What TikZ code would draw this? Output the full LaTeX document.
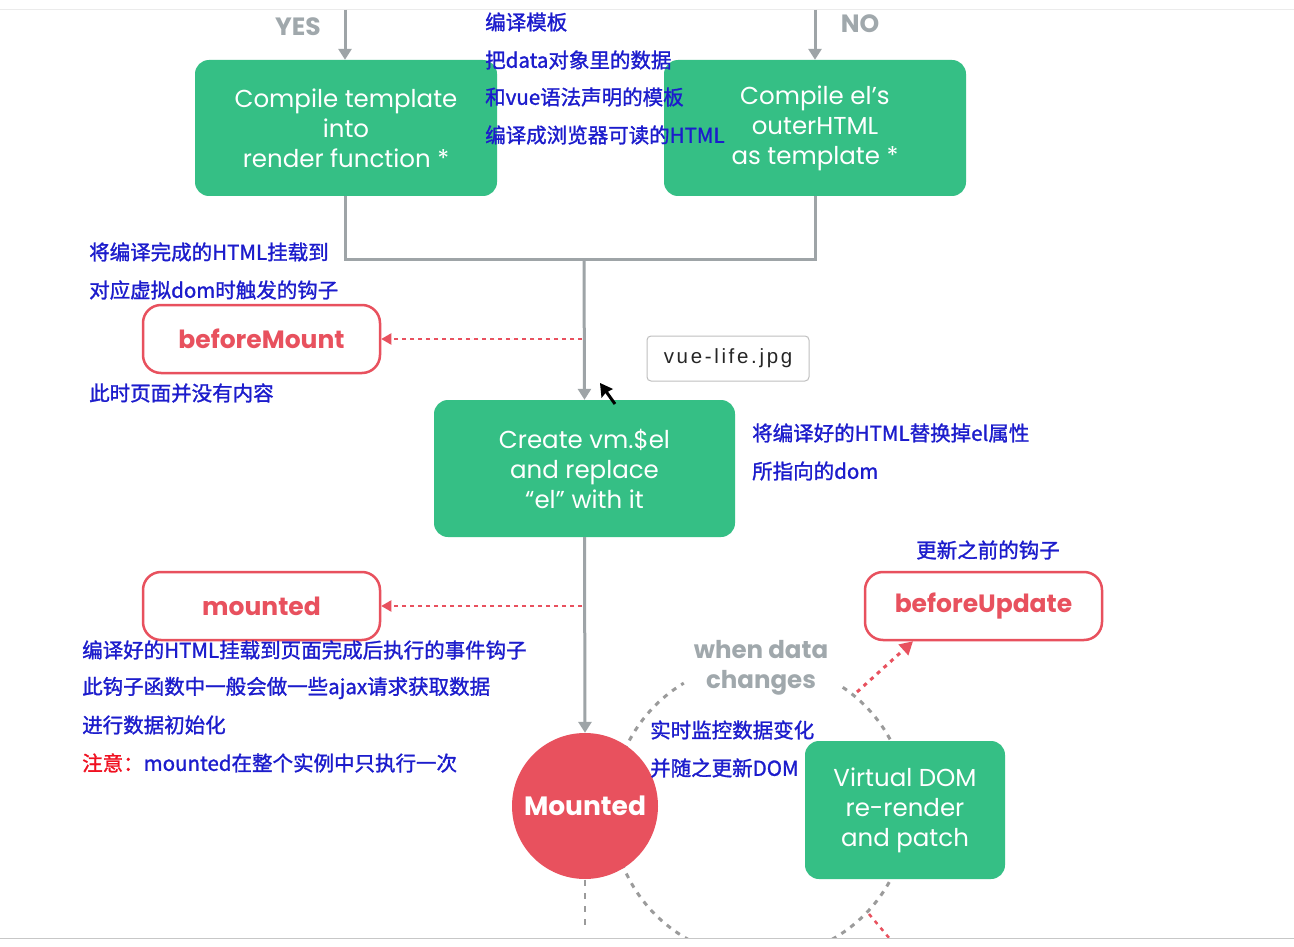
\documentclass[tikz,border=0pt]{standalone}
\usepackage{fontspec}
\setmainfont{Poppins}
\newfontfamily\cjk[FakeBold=1.3]{Noto Sans CJK SC}
\newfontfamily\tipfont[LetterSpace=13]{Liberation Sans}
\usetikzlibrary{arrows.meta,calc}
\definecolor{vgreen}{HTML}{35BF85}
\definecolor{vred}{HTML}{E8515E}
\definecolor{vgray}{HTML}{9EA4A7}
\definecolor{vblue}{HTML}{1C1CCC}
\definecolor{lblgray}{HTML}{A0A8AC}
\definecolor{dashgray}{HTML}{9B9B9B}
\definecolor{notered}{HTML}{F01020}
\tikzset{
  greenbox/.style={fill=vgreen, rounded corners=14pt, text=white, align=center,
    font=\fontsize{24.5}{30}\selectfont, inner sep=0pt},
  hookbox/.style={draw=vred, line width=2.5pt, fill=white, rounded corners=18pt,
    minimum width=237pt, minimum height=68pt, text=vred, inner sep=0pt,
    font=\bfseries\fontsize{25}{28}\selectfont},
  cntext/.style={anchor=west, inner sep=0pt, text=vblue, font=\cjk\fontsize{20.5}{24}\selectfont},
  flow/.style={draw=vgray, line width=3pt},
  flowarrow/.style={flow, -{Triangle[length=11pt,width=13pt]}},
  hookarrow/.style={draw=vred, line width=2pt, dash pattern=on 4pt off 4pt,
    -{Triangle[length=10pt,width=11pt]}},
  ylabel/.style={text=lblgray, font=\bfseries\fontsize{25}{28}\selectfont, inner sep=0pt},
}
\begin{document}
\begin{tikzpicture}[x=1pt,y=-1pt]
\useasboundingbox (0,0) rectangle (1294,947);
\fill[white] (0,0) rectangle (1294,947);
\draw[color=black!8, line width=1pt] (0,10) -- (1294,10);
\draw[color=black!22, line width=1pt] (0,938) -- (1294,938);

% dashed update cycle
\begin{scope}
\clip (0,11) rectangle (1294,937);
\draw[dashgray, line width=3pt, dash pattern=on 5pt off 6pt] (760,810) ++(-56:148) arc[start angle=-56, end angle=239, radius=148];
\coordinate (cycR) at (857,692);
\coordinate (cycB) at (869,914);
\coordinate (cycBend) at (895,945);
\draw[vred, line width=2.5pt, dash pattern=on 4pt off 5pt] (cycB) -- (cycBend);
\coordinate (mBelow) at (585,880);
\coordinate (mBelowEnd) at (585,930);
\draw[dashgray, line width=2.5pt, dash pattern=on 6pt off 7pt] (mBelow) -- (mBelowEnd);
\end{scope}

% top entries
\coordinate (yesTop) at (345,10);
\coordinate (noTop) at (815,10);
\node[ylabel] (yes) at (298,27) {YES};
\node[ylabel] (no) at (860,24) {NO};

\node[greenbox, minimum width=302pt, minimum height=136pt] (tmpl) at (346,128)
  {Compile template\\into\\render function *};
\node[greenbox, minimum width=302pt, minimum height=136pt] (elhtml) at (815,128)
  {Compile el’s\\outerHTML\\as template *};
\draw[flowarrow] (yesTop) -- (tmpl.north -| yesTop);
\draw[flowarrow] (noTop) -- (elhtml.north -| noTop);

\coordinate (join) at (584,259);
\draw[flow] (tmpl.south -| yesTop) |- (join) -| (elhtml.south -| noTop);

\node[greenbox, minimum width=301pt, minimum height=137pt] (create) at (584.5,468.5)
  {Create vm.\$el\\and replace\\“el” with it};
\draw[flowarrow] (join) -- (create.north);

\node[hookbox] (bmount) at (261.5,339) {beforeMount};
\node[hookbox] (mounted) at (261.5,606) {mounted};
\node[hookbox] (bupdate) at (983.5,606) {beforeUpdate};

\coordinate (bmStart) at (582,339);
\coordinate (mStart) at (582,606);
\draw[hookarrow] (bmStart) -- (bmount.east);
\draw[hookarrow] (mStart) -- (mounted.east);

\node[circle, fill=vred, minimum size=146pt, inner sep=0pt, text=white,
  font=\bfseries\fontsize{26.5}{30}\selectfont] (mcircle) at (585,806) {Mounted};
\draw[flowarrow] (create.south) -- (mcircle.north);

\node[greenbox, minimum width=200pt, minimum height=138pt] (vdom) at (905,810)
  {Virtual DOM\\re-render\\and patch};

\draw[vred, line width=3pt, dash pattern=on 4pt off 5pt, -{Triangle[length=13pt,width=14pt]}] (cycR) -- (bupdate.south west -| 913,0);

\node[ylabel, align=center, font=\bfseries\fontsize{24.5}{30}\selectfont] (wdc) at (761,668) {when data\\changes};

% tooltip and cursor
\node[draw=black!25, line width=1pt, rounded corners=4pt, fill=white, minimum width=162pt,
  minimum height=45pt, inner sep=0pt, font=\tipfont\fontsize{20.5}{22}\selectfont, text=black!85] (tip) at (728,358.5) {vue-life.jpg};
\coordinate (curTail) at (615,404);
\coordinate (curTip) at (600,383);
\draw[black, line width=3pt] (curTail) -- ($(curTip)!0.4!(curTail)$);
\fill[black] (curTip) -- (601.5,398) -- (605.5,393) -- (613,389) -- cycle;

% annotations
\node[cntext] (a1) at (485,22) {编译模板};
\node[cntext] (a2) at (485,60) {把data对象里的数据};
\node[cntext] (a3) at (485,97) {和vue语法声明的模板};
\node[cntext] (a4) at (485,135) {编译成浏览器可读的HTML};

\node[cntext] (b1) at (89,252) {将编译完成的HTML挂载到};
\node[cntext] (b2) at (89,290) {对应虚拟dom时触发的钩子};
\node[cntext] (b3) at (89,393) {此时页面并没有内容};

\node[cntext] (c1) at (752,433) {将编译好的HTML替换掉el属性};
\node[cntext] (c2) at (752,471) {所指向的dom};

\node[cntext] (d1) at (82,650) {编译好的HTML挂载到页面完成后执行的事件钩子};
\node[cntext] (d2) at (82,688) {此钩子函数中一般会做一些ajax请求获取数据};
\node[cntext] (d3) at (82,725) {进行数据初始化};
\node[cntext] (d4) at (82,763) {\textcolor{notered}{注意：}mounted在整个实例中只执行一次};

\node[cntext, anchor=center] (e1) at (988,550) {更新之前的钩子};
\node[cntext] (f1) at (650,730) {实时监控数据变化};
\node[cntext] (f2) at (650,768) {并随之更新DOM};
\end{tikzpicture}
\end{document}
